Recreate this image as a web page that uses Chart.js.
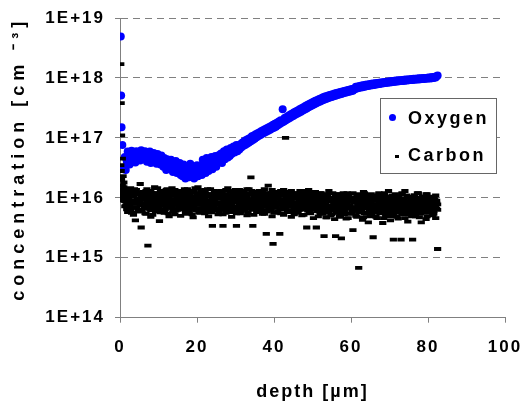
<!DOCTYPE html>
<html>
<head>
<meta charset="utf-8">
<script src="https://cdn.jsdelivr.net/npm/chart.js@4/dist/chart.umd.min.js"></script>
<style>body{margin:0;background:#fff}</style>
</head>
<body>
<canvas id="myChart" width="532" height="405"></canvas>
<script>
// depth in µm, same depth grid for both elements
const depth = [
  0.2,0.3,0.4,0.6,0.8,
  1,1.25,1.5,1.75,2,2.25,2.5,2.75,3,3.25,3.5,3.75,4,4.25,4.5,4.75,5,5.25,5.5,5.75,
  6,6.25,6.5,6.75,7,7.25,7.5,7.75,8,8.25,8.5,8.75,9,9.25,9.5,9.75,10,10.25,10.5,10.75,
  11,11.25,11.5,11.75,12,12.25,12.5,12.75,13,13.25,13.5,13.75,14,14.25,14.5,14.75,15,15.25,15.5,15.75,
  16,16.25,16.5,16.75,17,17.25,17.5,17.75,18,18.25,18.5,18.75,19,19.25,19.5,19.75,20,20.25,20.5,20.75,
  21,21.25,21.5,21.75,22,22.25,22.5,22.75,23,23.25,23.5,23.75,24,24.25,24.5,24.75,25,25.25,25.5,25.75,
  26,26.25,26.5,26.75,27,27.25,27.5,27.75,28,28.25,28.5,28.75,29,29.25,29.5,29.75,30,30.25,30.5,30.75,
  31,31.25,31.5,31.75,32,32.25,32.5,32.75,33,33.25,33.5,33.75,34,34.25,34.5,34.75,35,35.25,35.5,35.75,
  36,36.25,36.5,36.75,37,37.25,37.5,37.75,38,38.25,38.5,38.75,39,39.25,39.5,39.75,40,40.25,40.5,40.75,
  41,41.25,41.5,41.75,42,42.25,42.5,42.75,43,43.25,43.5,43.75,44,44.25,44.5,44.75,45,45.25,45.5,45.75,
  46,46.25,46.5,46.75,47,47.25,47.5,47.75,48,48.25,48.5,48.75,49,49.25,49.5,49.75,50,50.25,50.5,50.75,
  51,51.25,51.5,51.75,52,52.25,52.5,52.75,53,53.25,53.5,53.75,54,54.25,54.5,54.75,55,55.25,55.5,55.75,
  56,56.25,56.5,56.75,57,57.25,57.5,57.75,58,58.25,58.5,58.75,59,59.25,59.5,59.75,60,60.25,60.5,60.75,
  61,61.25,61.5,61.75,62,62.25,62.5,62.75,63,63.25,63.5,63.75,64,64.25,64.5,64.75,65,65.25,65.5,65.75,
  66,66.25,66.5,66.75,67,67.25,67.5,67.75,68,68.25,68.5,68.75,69,69.25,69.5,69.75,70,70.25,70.5,70.75,
  71,71.25,71.5,71.75,72,72.25,72.5,72.75,73,73.25,73.5,73.75,74,74.25,74.5,74.75,75,75.25,75.5,75.75,
  76,76.25,76.5,76.75,77,77.25,77.5,77.75,78,78.25,78.5,78.75,79,79.25,79.5,79.75,80,80.25,80.5,80.75,
  81,81.25,81.5,81.75,82,82.25,82.5
];

const oxygen = [
  4.9e18,5.1e17,1.5e17,7.6e16,3.0e16,
  3.2e16,4.8e16,2.9e16,4.1e16,5.9e16,4.5e16,3.6e16,5.2e16,6.1e16,4.3e16,5.6e16,4.9e16,3.9e16,6.0e16,5.3e16,4.6e16,5.8e16,4.2e16,6.2e16,5.0e16,
  5.7e16,4.4e16,6.0e16,5.1e16,4.0e16,5.5e16,4.7e16,5.9e16,3.8e16,5.2e16,4.5e16,5.6e16,4.1e16,5.0e16,3.7e16,5.4e16,4.3e16,4.8e16,3.6e16,5.1e16,
  4.2e16,3.3e16,4.6e16,3.8e16,2.9e16,4.4e16,3.5e16,4.0e16,3.0e16,4.3e16,3.4e16,2.7e16,3.9e16,3.1e16,4.1e16,2.6e16,3.6e16,2.9e16,3.8e16,2.4e16,
  3.2e16,2.3e16,3.6e16,2.7e16,2.1e16,3.4e16,2.5e16,3.0e16,2.2e16,3.7e16,2.8e16,2.4e16,3.3e16,2.1e16,3.0e16,2.6e16,3.5e16,2.3e16,3.1e16,2.7e16,
  3.4e16,2.4e16,4.3e16,2.9e16,3.8e16,2.6e16,4.6e16,3.2e16,2.8e16,4.0e16,3.5e16,4.8e16,3.0e16,4.2e16,3.6e16,5.0e16,3.3e16,4.4e16,3.9e16,5.2e16,
  4.1e16,5.5e16,3.8e16,4.9e16,6.0e16,4.4e16,5.3e16,6.4e16,4.7e16,5.8e16,5.0e16,6.8e16,5.4e16,6.2e16,7.2e16,5.7e16,6.6e16,7.6e16,6.0e16,7.0e16,
  6.4e16,7.8e16,6.9e16,8.3e16,7.3e16,8.8e16,7.6e16,9.2e16,8.0e16,9.6e16,8.4e16,1.0e17,8.8e16,1.06e17,9.2e16,1.1e17,9.7e16,1.15e17,1.02e17,1.2e17,
  1.07e17,1.24e17,1.12e17,1.3e17,1.17e17,1.35e17,1.22e17,1.4e17,1.27e17,1.46e17,1.32e17,1.52e17,1.37e17,1.58e17,1.43e17,1.65e17,1.48e17,1.72e17,1.54e17,1.79e17,
  1.62e17,1.88e17,1.7e17,1.96e17,1.78e17,3.0e17,1.86e17,2.14e17,1.95e17,2.24e17,2.04e17,2.34e17,2.13e17,2.45e17,2.22e17,2.56e17,2.32e17,2.67e17,2.42e17,2.78e17,
  2.52e17,2.9e17,2.63e17,3.02e17,2.74e17,3.15e17,2.86e17,3.28e17,2.98e17,3.42e17,3.1e17,3.56e17,3.23e17,3.7e17,3.36e17,3.85e17,3.5e17,4.0e17,3.64e17,4.15e17,
  3.78e17,4.3e17,3.92e17,4.45e17,4.06e17,4.6e17,4.2e17,4.75e17,4.33e17,4.9e17,4.46e17,5.0e17,4.58e17,5.12e17,4.7e17,5.25e17,4.82e17,5.36e17,4.94e17,5.48e17,
  5.06e17,5.6e17,5.18e17,5.72e17,5.3e17,5.84e17,5.42e17,5.96e17,5.54e17,6.08e17,5.66e17,6.2e17,5.78e17,6.3e17,5.9e17,6.42e17,6.0e17,6.52e17,6.1e17,6.62e17,
  6.5e17,7.1e17,6.65e17,7.22e17,6.78e17,7.34e17,6.9e17,7.45e17,7.02e17,7.56e17,7.14e17,7.67e17,7.25e17,7.77e17,7.36e17,7.87e17,7.46e17,7.97e17,7.56e17,8.06e17,
  7.66e17,8.15e17,7.76e17,8.24e17,7.86e17,8.33e17,7.95e17,8.42e17,8.04e17,8.5e17,8.13e17,8.58e17,8.22e17,8.66e17,8.3e17,8.74e17,8.38e17,8.82e17,8.46e17,8.9e17,
  8.54e17,8.97e17,8.62e17,9.04e17,8.7e17,9.11e17,8.78e17,9.18e17,8.85e17,9.25e17,8.92e17,9.32e17,8.99e17,9.39e17,9.06e17,9.46e17,9.13e17,9.53e17,9.2e17,9.6e17,
  9.27e17,9.66e17,9.34e17,9.72e17,9.4e17,9.78e17,9.46e17,9.84e17,9.52e17,9.9e17,9.58e17,9.96e17,9.64e17,1.0e18,9.7e17,1.01e18,9.76e17,1.02e18,9.82e17,1.03e18,
  9.9e17,1.04e18,1.0e18,1.05e18,1.02e18,1.07e18,1.1e18
];

// carbon, first scan
const carbon = [
  1.7e18,3.8e17,1.1e17,4.5e16,2.3e16,
  1.8e16,1.2e16,7.5e15,1.0e16,5.8e15,1.3e16,8.2e15,6.5e15,1.1e16,9.0e15,5.2e15,1.4e16,4.2e15,7.0e15,1.2e16,8.8e15,6.1e15,1.7e16,3.2e15,9.5e15,
  1.1e16,7.8e15,5.5e15,1.3e16,8.5e15,1.6e15,1.0e16,6.8e15,4.8e15,1.2e16,9.2e15,7.2e15,1.5e16,5.9e15,1.05e16,8.0e15,6.3e15,4.1e15,1.25e16,9.8e15,
  7.4e15,1.15e16,5.6e15,9.6e15,1.35e16,6.9e15,8.7e15,4.9e15,1.1e16,7.7e15,1.45e16,6.2e15,9.3e15,5.3e15,1.2e16,8.4e15,1.0e16,6.6e15,1.3e16,5.0e15,
  9.0e15,6.4e15,1.25e16,7.9e15,1.05e16,5.4e15,1.4e16,8.6e15,6.0e15,1.15e16,7.3e15,9.7e15,4.7e15,1.3e16,8.1e15,1.0e16,6.7e15,1.5e16,5.7e15,9.4e15,
  1.2e16,7.6e15,9.9e15,5.9e15,1.35e16,8.3e15,6.5e15,1.1e16,4.9e15,9.1e15,1.4e16,7.0e15,3.4e15,1.05e16,8.8e15,6.1e15,1.25e16,7.8e15,5.3e15,1.0e16,
  8.5e15,1.3e16,6.3e15,3.4e15,9.5e15,1.15e16,5.6e15,8.0e15,1.45e16,6.8e15,1.0e16,7.5e15,4.8e15,1.2e16,8.9e15,6.0e15,1.35e16,3.4e15,9.3e15,7.1e15,
  1.1e16,5.5e15,8.7e15,1.3e16,6.6e15,9.8e15,7.4e15,1.2e16,5.1e15,9.0e15,1.4e16,6.9e15,2.2e16,8.2e15,3.4e15,1.05e16,7.7e15,1.25e16,5.8e15,9.5e15,
  7.2e15,1.15e16,8.4e15,6.1e15,1.3e16,9.2e15,5.4e15,1.0e16,2.5e15,7.9e15,1.6e16,6.4e15,1.1e16,8.6e15,4.9e15,1.7e15,1.2e16,7.0e15,9.6e15,5.7e15,
  1.05e16,8.1e15,2.5e15,1.3e16,6.5e15,9.4e15,5.2e15,1.15e16,1.0e17,7.6e15,1.0e16,6.0e15,1.25e16,8.8e15,4.8e15,1.1e16,7.3e15,9.9e15,5.6e15,1.2e16,
  8.3e15,6.2e15,1.15e16,7.0e15,9.7e15,5.1e15,1.3e16,7.8e15,6.6e15,1.0e16,3.2e15,8.5e15,1.2e16,5.8e15,9.2e15,6.9e15,1.1e16,4.6e15,8.0e15,1.25e16,
  3.2e15,7.4e15,1.05e16,5.9e15,9.0e15,1.2e16,6.4e15,8.2e15,2.3e15,1.1e16,7.1e15,4.7e15,9.5e15,1.3e16,6.7e15,8.7e15,5.3e15,1.0e16,7.6e15,4.4e15,
  2.3e15,9.1e15,6.3e15,1.15e16,7.5e15,5.0e15,2.1e15,8.9e15,1.05e16,6.0e15,8.0e15,4.5e15,1.2e16,7.0e15,9.6e15,5.5e15,1.0e16,6.8e15,2.9e15,8.4e15,
  6.1e15,9.8e15,4.8e15,8.1e15,6.8e14,1.1e16,6.5e15,7.7e15,4.3e15,1.25e16,7.2e15,9.2e15,5.6e15,1.05e16,3.9e15,8.6e15,6.9e15,1.15e16,5.2e15,2.2e15,
  8.9e15,6.2e15,1.0e16,4.6e15,7.8e15,1.2e16,5.7e15,9.0e15,6.6e15,3.8e15,1.1e16,7.3e15,5.0e15,9.4e15,6.0e15,1.3e16,8.2e15,4.2e15,7.0e15,1.0e16,
  2.0e15,8.5e15,5.9e15,1.05e16,7.4e15,4.5e15,9.7e15,6.4e15,2.0e15,1.15e16,7.9e15,5.3e15,1.3e16,8.8e15,6.7e15,4.0e15,1.0e16,7.1e15,5.6e15,9.2e15,
  2.0e15,6.3e15,1.1e16,4.9e15,8.3e15,6.9e15,1.2e16,5.4e15,9.1e15,3.9e15,7.6e15,1.05e16,6.1e15,8.7e15,4.4e15,1.15e16,7.2e15,5.8e15,9.8e15,6.5e15,
  8.0e15,5.1e15,1.0e16,6.8e15,4.6e15,9.0e15,1.4e15
];

// carbon, second scan over the same depths
const carbonScan2 = [
  3.5e16,2.8e16,2.0e16,1.6e16,1.3e16,
  1.5e16,8.8e15,1.1e16,6.4e15,1.3e16,9.4e15,7.1e15,1.45e16,5.6e15,1.05e16,8.0e15,1.2e16,6.8e15,1.35e16,9.0e15,5.9e15,1.15e16,7.6e15,1.0e16,6.2e15,
  1.25e16,7.0e15,9.6e15,5.4e15,1.4e16,8.3e15,1.1e16,6.5e15,1.3e16,7.8e15,5.2e15,1.0e16,8.6e15,1.2e16,6.0e15,1.45e16,7.4e15,9.2e15,5.7e15,1.15e16,
  8.9e15,1.3e16,6.1e15,1.05e16,7.3e15,1.4e16,5.5e15,9.5e15,1.2e16,6.9e15,8.2e15,1.1e16,5.9e15,1.35e16,7.7e15,9.9e15,6.3e15,1.25e16,8.5e15,1.05e16,
  6.6e15,1.15e16,8.0e15,1.4e16,5.8e15,9.7e15,7.2e15,1.2e16,6.4e15,1.3e16,8.7e15,5.3e15,1.05e16,7.5e15,1.45e16,6.2e15,9.3e15,1.15e16,7.9e15,5.6e15,
  1.3e16,6.7e15,9.0e15,1.2e16,5.5e15,1.05e16,7.8e15,1.4e16,6.0e15,8.4e15,1.15e16,5.7e15,9.8e15,7.2e15,1.3e16,6.5e15,1.0e16,8.1e15,1.25e16,5.9e15,
  9.6e15,6.9e15,1.2e16,5.3e15,1.1e16,7.6e15,1.35e16,6.2e15,9.1e15,1.05e16,5.8e15,1.3e16,7.3e15,9.9e15,6.5e15,1.15e16,8.3e15,5.5e15,1.25e16,7.0e15,
  1.35e16,7.9e15,5.9e15,1.05e16,8.6e15,1.25e16,6.3e15,9.4e15,1.4e16,5.6e15,8.0e15,1.15e16,6.8e15,1.3e16,7.4e15,5.2e15,1.0e16,8.9e15,1.2e16,6.1e15,
  9.3e15,1.3e16,6.5e15,1.1e16,5.4e15,8.2e15,1.4e16,7.1e15,9.8e15,5.9e15,1.2e16,7.7e15,1.05e16,6.3e15,1.35e16,8.5e15,5.6e15,1.15e16,7.0e15,1.0e16,
  6.0e15,1.25e16,8.4e15,5.5e15,1.1e16,7.2e15,1.35e16,6.6e15,9.1e15,1.2e16,5.8e15,8.8e15,1.05e16,7.4e15,1.3e16,6.2e15,9.6e15,5.3e15,1.15e16,8.0e15,
  1.1e16,5.7e15,9.4e15,1.3e16,6.4e15,8.6e15,1.05e16,5.2e15,1.2e16,7.6e15,9.9e15,6.1e15,1.35e16,8.1e15,5.5e15,1.05e16,7.3e15,1.2e16,6.7e15,9.0e15,
  6.3e15,1.1e16,4.9e15,8.4e15,1.2e16,6.9e15,9.5e15,5.4e15,1.05e16,7.7e15,4.7e15,1.15e16,6.0e15,8.9e15,1.0e16,5.1e15,7.3e15,1.2e16,6.6e15,9.2e15,
  1.05e16,5.6e15,8.1e15,1.15e16,4.8e15,7.0e15,9.8e15,6.2e15,1.2e16,5.3e15,8.6e15,1.0e16,6.7e15,4.6e15,1.1e16,7.5e15,9.3e15,5.8e15,1.2e16,6.4e15,
  8.3e15,5.0e15,1.15e16,7.1e15,9.6e15,5.7e15,1.05e16,6.4e15,8.9e15,4.7e15,1.2e16,7.6e15,5.4e15,9.9e15,6.9e15,1.1e16,4.9e15,8.2e15,1.0e16,6.1e15,
  1.1e16,6.8e15,4.8e15,9.4e15,7.4e15,1.15e16,5.5e15,8.5e15,1.0e16,6.2e15,4.6e15,1.2e16,7.8e15,5.9e15,9.1e15,1.05e16,6.5e15,4.9e15,8.7e15,1.1e16,
  5.2e15,9.0e15,1.15e16,6.6e15,4.8e15,8.0e15,1.05e16,5.8e15,7.3e15,1.2e16,6.1e15,9.5e15,4.6e15,8.4e15,1.1e16,6.9e15,5.3e15,1.0e16,7.7e15,4.9e15,
  9.7e15,6.0e15,1.1e16,5.1e15,8.1e15,1.2e16,6.7e15,4.7e15,9.3e15,7.2e15,1.05e16,5.6e15,8.8e15,6.3e15,1.15e16,4.9e15,7.9e15,1.0e16,6.0e15,8.5e15,
  6.2e15,1.05e16,5.4e15,8.3e15,1.1e16,6.6e15,7.8e15
];

// carbon, third scan over the same depths
const carbonScan3 = [
  1.4e16,1.1e16,9.0e15,1.2e16,1.0e16,
  9.6e15,7.2e15,1.2e16,8.4e15,6.5e15,1.1e16,7.8e15,1.25e16,9.0e15,6.8e15,1.05e16,8.1e15,1.15e16,7.0e15,9.9e15,6.3e15,1.2e16,8.7e15,7.5e15,1.1e16,
  8.0e15,1.2e16,6.7e15,9.3e15,1.1e16,7.4e15,8.9e15,1.25e16,6.2e15,1.0e16,7.9e15,1.15e16,6.6e15,9.5e15,8.3e15,1.2e16,7.1e15,1.05e16,8.8e15,6.4e15,
  1.15e16,7.7e15,9.8e15,6.5e15,1.2e16,8.5e15,7.0e15,1.05e16,8.2e15,1.25e16,6.8e15,9.4e15,7.6e15,1.1e16,6.1e15,9.1e15,1.2e16,7.3e15,8.6e15,1.0e16,
  7.5e15,1.05e16,8.8e15,6.6e15,1.2e16,7.9e15,9.6e15,6.3e15,1.1e16,8.4e15,7.1e15,1.25e16,8.9e15,6.7e15,1.0e16,7.7e15,1.15e16,8.2e15,6.4e15,1.05e16,
  8.6e15,6.2e15,1.1e16,7.4e15,9.4e15,1.2e16,6.9e15,8.5e15,1.05e16,7.6e15,6.4e15,1.15e16,8.3e15,9.7e15,7.0e15,1.2e16,8.0e15,6.6e15,1.1e16,7.8e15,
  1.2e16,8.1e15,6.5e15,1.05e16,7.2e15,9.2e15,1.15e16,6.8e15,8.7e15,7.5e15,1.1e16,6.2e15,9.6e15,8.4e15,1.25e16,7.0e15,8.9e15,1.05e16,6.6e15,9.9e15,
  7.3e15,1.1e16,8.6e15,6.4e15,1.2e16,7.8e15,9.1e15,6.7e15,1.05e16,8.2e15,7.1e15,9.5e15,1.15e16,6.3e15,8.8e15,1.2e16,7.5e15,9.8e15,6.9e15,1.05e16,
  8.5e15,6.6e15,1.15e16,7.7e15,9.3e15,6.2e15,1.05e16,8.0e15,1.2e16,7.2e15,8.7e15,6.5e15,9.7e15,7.9e15,1.1e16,6.8e15,9.0e15,1.25e16,7.4e15,8.3e15,
  1.1e16,7.6e15,6.4e15,9.2e15,8.1e15,1.2e16,7.0e15,9.5e15,6.7e15,1.05e16,8.5e15,7.3e15,1.15e16,6.2e15,8.8e15,1.0e16,7.8e15,6.5e15,1.2e16,8.2e15,
  7.1e15,9.9e15,8.4e15,6.3e15,1.1e16,7.5e15,9.0e15,1.2e16,6.8e15,8.6e15,7.4e15,1.05e16,6.1e15,9.3e15,8.0e15,1.15e16,6.6e15,8.9e15,1.0e16,7.2e15,
  8.5e15,6.0e15,9.6e15,7.2e15,5.5e15,1.05e16,6.8e15,8.2e15,5.9e15,9.9e15,7.6e15,6.3e15,1.1e16,5.7e15,8.7e15,7.0e15,9.3e15,6.1e15,1.0e16,7.8e15,
  6.4e15,9.0e15,7.3e15,5.6e15,1.05e16,8.1e15,6.0e15,9.5e15,7.1e15,5.8e15,1.1e16,6.6e15,8.4e15,7.5e15,5.4e15,9.7e15,6.9e15,8.8e15,6.2e15,1.0e16,
  7.0e15,9.4e15,6.2e15,8.6e15,5.7e15,1.0e16,7.4e15,6.0e15,9.1e15,8.0e15,5.5e15,1.05e16,6.7e15,8.3e15,7.2e15,5.9e15,9.6e15,6.5e15,8.9e15,7.7e15,
  5.8e15,9.2e15,7.1e15,6.3e15,1.0e16,8.2e15,5.6e15,7.6e15,9.5e15,6.1e15,8.5e15,7.0e15,1.05e16,5.5e15,8.0e15,6.6e15,9.8e15,7.3e15,5.9e15,8.7e15,
  7.5e15,6.0e15,9.3e15,8.1e15,5.6e15,1.0e16,6.8e15,8.8e15,7.2e15,5.4e15,9.6e15,6.4e15,8.3e15,7.7e15,5.8e15,1.05e16,6.2e15,8.6e15,7.0e15,9.1e15,
  6.5e15,8.4e15,5.7e15,9.8e15,7.4e15,6.1e15,8.9e15,7.8e15,5.5e15,1.0e16,6.7e15,8.2e15,7.1e15,5.9e15,9.4e15,6.4e15,8.7e15,7.6e15,5.6e15,9.1e15,
  7.2e15,8.6e15,6.0e15,9.5e15,7.0e15,8.1e15,6.3e15
];

const xTickValues = [0, 20, 40, 60, 80, 100];
const yTickValues = [1e14, 1e15, 1e16, 1e17, 1e18, 1e19];
const yTickLabels = ["1E+14", "1E+15", "1E+16", "1E+17", "1E+18", "1E+19"];

const FONT = "'Liberation Sans', Arial, sans-serif";
const GRAY = "#808080";

// wide letter spacing like the original (stretched) text
const spacing = {
  id: "spacing",
  beforeUpdate(chart) { chart.ctx.letterSpacing = "2px"; },
  beforeDraw(chart) { chart.ctx.letterSpacing = "2px"; }
};

// framed legend inside the plot, on the right
const boxLegend = {
  id: "boxLegend",
  afterDraw(chart) {
    const ctx = chart.ctx;
    const ds = chart.data.datasets;
    ctx.save();
    ctx.fillStyle = "#fff";
    ctx.fillRect(380.5, 98.5, 116, 75);
    ctx.strokeStyle = "#666";
    ctx.lineWidth = 1;
    ctx.strokeRect(380.5, 98.5, 116, 75);
    ctx.fillStyle = ds[0].backgroundColor;
    ctx.beginPath();
    ctx.arc(392.5, 117.5, 3.5, 0, Math.PI * 2);
    ctx.fill();
    ctx.fillStyle = "#000";
    ctx.fillRect(395, 155, 4, 3);
    ctx.font = "bold 18px " + FONT;
    ctx.letterSpacing = "2.5px";
    ctx.textBaseline = "alphabetic";
    ctx.fillText(ds[0].label, 408, 123.5);
    ctx.fillText(ds[1].label, 408, 161);
    ctx.restore();
  }
};

const carbonPoints = depth.map((d, i) => ({x: d, y: carbon[i]}))
  .concat(depth.map((d, i) => ({x: d, y: carbonScan2[i]})))
  .concat(depth.map((d, i) => ({x: d, y: carbonScan3[i]})));

const data = {
  datasets: [{
    label: "Oxygen",
    data: depth.map((d, i) => ({x: d, y: oxygen[i]})),
    backgroundColor: "#0000FF",
    borderColor: "#0000FF",
    borderWidth: 0,
    pointRadius: 4,
    pointHoverRadius: 4,
    order: 1
  }, {
    label: "Carbon",
    data: carbonPoints,
    backgroundColor: "#000",
    borderColor: "#000",
    pointStyle: "line",
    pointRadius: 3.6,
    pointHoverRadius: 3.6,
    borderWidth: 3.8,
    order: 0
  }]
};

const config = {
  type: "scatter",
  data: data,
  options: {
    responsive: false,
    animation: false,
    events: [],
    layout: {padding: {left: 0, top: 18, right: 27, bottom: 0}},
    scales: {
      x: {
        type: "linear",
        min: 0,
        max: 100,
        afterBuildTicks: (axis) => { axis.ticks = xTickValues.map(v => ({value: v})); },
        afterFit: (axis) => {
          axis.height = 87.3;
          axis.paddingLeft = 0;
          axis.paddingRight = 0;
        },
        grid: {
          drawOnChartArea: false,
          drawTicks: true,
          tickLength: 5,
          tickColor: GRAY
        },
        border: {color: GRAY, width: 1},
        ticks: {
          color: "#000",
          padding: 14,
          maxRotation: 0,
          font: {family: FONT, size: 17, weight: "bold"}
        },
        title: {
          display: true,
          text: "depth [µm]",
          color: "#000",
          padding: {top: 0, bottom: 2},
          font: {family: FONT, size: 18, weight: "bold"}
        }
      },
      y: {
        type: "logarithmic",
        min: 1e14,
        max: 1e19,
        afterBuildTicks: (axis) => { axis.ticks = yTickValues.map(v => ({value: v})); },
        afterFit: (axis) => {
          axis.width = 120;
          axis.paddingTop = 0;
          axis.paddingBottom = 0;
          if (!axis._wideTitle) {
            // the axis title is spread out more than the other texts
            const base = axis.drawTitle;
            axis.drawTitle = function () {
              this.ctx.save();
              this.ctx.letterSpacing = "5px";
              this.ctx.translate(0, -9);
              base.call(this);
              this.ctx.restore();
            };
            axis._wideTitle = true;
          }
        },
        grid: {
          color: GRAY,
          lineWidth: 1,
          drawTicks: true,
          tickLength: 5,
          tickColor: GRAY,
          tickBorderDash: []
        },
        border: {color: GRAY, width: 1, dash: [7, 5]},
        ticks: {
          color: "#000",
          padding: 10,
          font: {family: FONT, size: 17, weight: "bold"},
          callback: (v) => yTickLabels[yTickValues.indexOf(v)]
        },
        title: {
          display: true,
          text: "concentration [cm ⁻³]",
          color: "#000",
          padding: {top: 8, bottom: 0},
          font: {family: FONT, size: 18, weight: "bold"}
        }
      }
    },
    plugins: {
      legend: {display: false},
      tooltip: {enabled: false}
    }
  },
  plugins: [spacing, boxLegend]
};

const myChart = new Chart(document.getElementById("myChart"), config);
</script>
</body>
</html>
